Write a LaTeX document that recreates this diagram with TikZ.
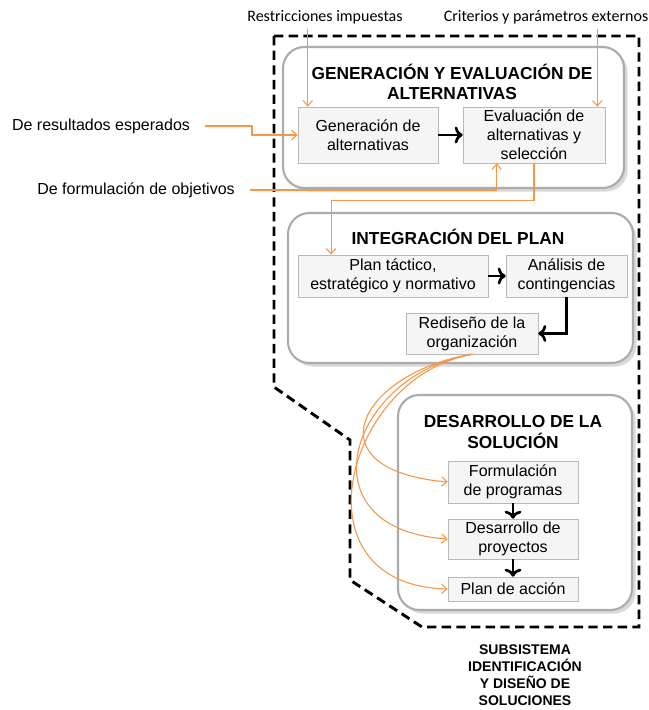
\documentclass[tikz,border=0pt]{standalone}
\usepackage{fontspec}
\setmainfont{Liberation Sans}
\newfontfamily\calibri{Carlito}
\usepackage{tikz}
\usetikzlibrary{shapes, shadows, arrows, arrows.meta}
\definecolor{naranja}{RGB}{247,150,70}
\tikzstyle{bloque}=[draw=gray!65, line width=1.6pt, rounded corners=16pt, fill=white, drop shadow={opacity=0.3}]
\tikzstyle{caja}=[draw=gray!55, rectangle, fill=gray!8, align=center, inner sep=0pt, font=\fontsize{12}{14.2}\selectfont]
\tikzstyle{titulo}=[align=center, font=\bfseries\fontsize{13}{15.5}\selectfont]
\tikzstyle{flecha}=[draw, ->, line width=2pt]
\tikzstyle{entrada}=[draw=naranja, -{Straight Barb[length=4pt, width=7pt]}, line width=0.8pt]
\tikzstyle{limite}=[draw, line width=2.2pt, dash pattern=on 7pt off 4pt]
\tikzstyle{etiqueta}=[font=\fontsize{12}{14}\selectfont]

\begin{document}
\begin{tikzpicture}[x=0.75pt, y=-0.75pt]
		\useasboundingbox (0,0) rectangle (649,710);
		\draw[limite] (274,36) -- (639,36) -- (639,627) -- (422,627) -- (350,580) -- (350,440) -- (274,387) -- cycle;
		% generacion y evaluacion
		\node[bloque, minimum width=255.75pt, minimum height=105.75pt] (GE) at (453.5,117.5) {};
		\node[titulo] (tGE) at (452,82) {GENERACIÓN Y EVALUACIÓN DE\\ALTERNATIVAS};
		\node[caja, minimum width=105pt, minimum height=42pt] (gen) at (368,135) {Generación de\\alternativas};
		\node[caja, minimum width=106.5pt, minimum height=42pt] (eval) at (534,135) {Evaluación de\\alternativas y\\selección};
		% integracion del plan
		\node[bloque, minimum width=258.75pt, minimum height=112.5pt] (IP) at (460.5,288) {};
		\node[titulo] (tIP) at (458,237) {INTEGRACIÓN DEL PLAN};
		\node[caja, minimum width=142.5pt, minimum height=31.5pt] (plan) at (393,276) {Plan táctico,\\estratégico y normativo};
		\node[caja, minimum width=90.75pt, minimum height=31.5pt] (cont) at (566.5,276) {Análisis de\\contingencias};
		\node[caja, minimum width=99pt, minimum height=30.75pt] (redis) at (472,333.5) {Rediseño de la\\organización};
		% desarrollo de la solucion
		\node[bloque, minimum width=175.5pt, minimum height=161.25pt] (DS) at (515,502.5) {};
		\node[titulo] (tDS) at (513,432) {DESARROLLO DE LA\\SOLUCIÓN};
		\node[caja, minimum width=97.5pt, minimum height=31.5pt] (form) at (513,482) {Formulación\\de programas};
		\node[caja, minimum width=97.5pt, minimum height=30pt] (proy) at (513,539) {Desarrollo de\\proyectos};
		\node[caja, minimum width=97.5pt, minimum height=18pt] (accion) at (513,589) {Plan de acción};
		% entradas
		\node[etiqueta, font=\calibri\fontsize{12}{14}\selectfont] (restr) at (325,17) {Restricciones impuestas};
		\node[etiqueta, font=\calibri\fontsize{12}{14}\selectfont] (crit) at (546,17) {Criterios y parámetros externos};
		\node[etiqueta] (resul) at (101,126) {De resultados esperados};
		\node[etiqueta] (obj) at (136,190) {De formulación de objetivos};
		\node[font=\bfseries\fontsize{10.5}{12.8}\selectfont, align=center] (sub) at (525,675) {SUBSISTEMA\\IDENTIFICACIÓN\\Y DISEÑO DE\\SOLUCIONES};
		\coordinate (gA) at ([xshift=7.5pt]gen.north west);
		\coordinate (eA) at ([xshift=-6pt]eval.north east);
		\coordinate (eB) at ([xshift=-28pt]eval.south);
		\coordinate (pA) at ([xshift=25pt]plan.north west);
		\draw[flecha] (gen) -- (eval);
		\draw[flecha] (plan) -- (cont);
		\draw[flecha] (cont.south) |- (redis.east);
		\draw[flecha] (form) -- (proy);
		\draw[flecha] (proy) -- (accion);
		\draw[entrada] (restr.south -| gA) -- (gA);
		\draw[entrada] (crit.south -| eA) -- (eA);
		\draw[entrada] ([xshift=8pt]resul.east) -- ++(35pt,0) |- (gen.west);
		\draw[entrada] ([xshift=8pt]obj.east) -| (eB);
		\draw[entrada] (eval.south) -- ++(0,37) -| (pA);
		\draw[entrada] ([xshift=-1pt]redis.south) .. controls +(-112,20) and +(-138,-12) .. (form.west);
		\draw[entrada] (redis.south) .. controls +(-122,20) and +(-148,-10) .. (proy.west);
		\draw[entrada] ([xshift=1pt]redis.south) .. controls +(-127,20) and +(-158,-4) .. (accion.west);
	\end{tikzpicture}
\end{document}
